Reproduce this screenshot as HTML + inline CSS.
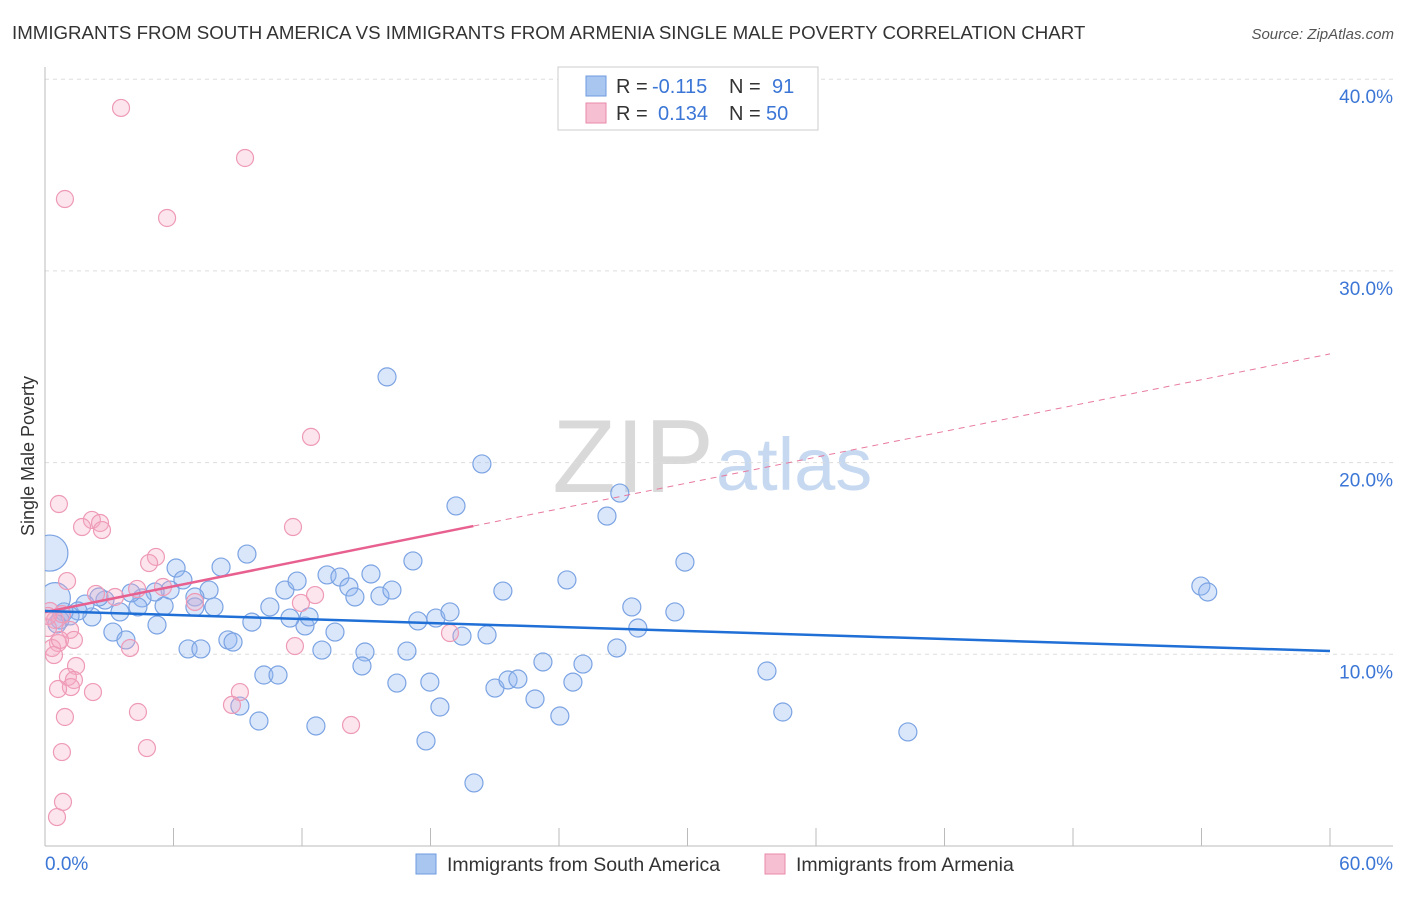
<!DOCTYPE html>
<html><head><meta charset="utf-8"><style>
body{margin:0;background:#fff;font-family:"Liberation Sans",sans-serif;}
svg text{font-family:"Liberation Sans",sans-serif;}
</style></head><body>
<svg width="1406" height="892" xmlns="http://www.w3.org/2000/svg" id="chart">
<defs><clipPath id="plotclip"><rect x="45" y="60" width="1360" height="786"/></clipPath></defs>
<text x="12" y="39" font-size="18.7" fill="#333">IMMIGRANTS FROM SOUTH AMERICA VS IMMIGRANTS FROM ARMENIA SINGLE MALE POVERTY CORRELATION CHART</text>
<text x="1394" y="39" font-size="15" fill="#555" text-anchor="end" font-style="italic">Source: ZipAtlas.com</text>
<text x="714" y="492" font-size="104" fill="#d9d9d9" text-anchor="end" font-family="Liberation Serif">ZIP</text>
<text x="716" y="490" font-size="74" fill="#c6d9f1">atlas</text>
<g id="grid"></g>
<g id="axes"></g>
<g id="marks" clip-path="url(#plotclip)"></g>
<text transform="translate(34,456) rotate(-90)" font-size="18" fill="#333" text-anchor="middle">Single Male Poverty</text>
<text x="45" y="870" font-size="19" fill="#3b76d6">0.0%</text>
<text x="1393" y="870" font-size="19" fill="#3b76d6" text-anchor="end">60.0%</text>
<g>
<rect x="558" y="67" width="260" height="63" fill="#fff" stroke="#ccc"/>
<rect x="586" y="76" width="20" height="20" fill="#a8c6f0" stroke="#6f9be0"/>
<rect x="586" y="103" width="20" height="20" fill="#f7c0d2" stroke="#e98aab"/>
<text x="616" y="93" font-size="20" fill="#333">R =</text>
<text x="652" y="93" font-size="20" fill="#3b76d6">-0.115</text>
<text x="729" y="93" font-size="20" fill="#333">N =</text>
<text x="772" y="93" font-size="20" fill="#3b76d6">91</text>
<text x="616" y="120" font-size="20" fill="#333">R =</text>
<text x="658" y="120" font-size="20" fill="#3b76d6">0.134</text>
<text x="729" y="120" font-size="20" fill="#333">N =</text>
<text x="766" y="120" font-size="20" fill="#3b76d6">50</text>
</g>
<g>
<rect x="416" y="854" width="20" height="20" fill="#a8c6f0" stroke="#6f9be0"/>
<text x="447" y="871" font-size="19.5" fill="#333">Immigrants from South America</text></g>
<g>
<rect x="765" y="854" width="20" height="20" fill="#f7c0d2" stroke="#e98aab"/>
<text x="796" y="871" font-size="19.5" fill="#333">Immigrants from Armenia</text></g>
</svg>
<script>
const yTicks=[10,20,30,40];
const yTickLabels=["10.0%","20.0%","30.0%","40.0%"];
const xTicks=[0,6,12,18,24,30,36,42,48,54,60];
const blueX=[15.97,20.40,19.19,26.84,26.24,29.88,17.18,24.37,21.38,53.97,54.29,27.40,29.41,27.68,26.70,33.71,34.45,40.29,9.43,8.22,6.12,6.44,7.66,7.89,7.00,7.00,5.56,5.84,5.14,4.53,4.34,4.02,3.50,2.80,2.52,2.19,1.87,1.54,1.17,0.89,0.70,0.56,3.17,3.78,5.23,6.68,7.28,8.54,8.78,9.66,10.50,11.20,11.77,12.14,12.33,11.44,13.17,13.77,14.19,14.47,15.22,15.64,16.20,13.54,12.93,14.94,14.80,16.90,17.41,18.25,18.91,19.47,20.64,10.22,10.88,16.43,17.97,18.44,17.79,20.03,21.01,21.62,22.08,22.88,23.25,24.04,24.65,25.12,9.10,9.99,12.65,0.23,0.47];
const blueY=[24.47,19.93,17.74,18.41,17.21,14.81,14.87,13.88,13.30,13.56,13.25,12.47,12.21,11.37,10.33,9.13,6.99,5.95,15.23,14.55,14.50,13.88,13.35,12.47,12.99,12.47,12.52,13.35,13.25,12.94,12.47,13.20,12.21,12.83,12.99,11.95,12.62,12.26,12.00,12.21,11.79,11.58,11.16,10.75,11.53,10.28,10.28,10.75,10.64,11.68,12.47,13.35,13.82,11.48,11.95,11.89,14.14,14.03,13.51,12.99,14.19,13.04,13.35,11.16,10.22,10.12,9.39,10.17,11.74,11.89,12.21,10.95,11.01,8.92,8.92,8.50,8.55,7.25,5.48,3.29,8.24,8.66,8.71,7.67,9.60,6.78,8.55,9.49,7.30,6.52,6.26,15.28,12.94];
const blueSize=[1,1,1,1,1,1,1,1,1,1,1,1,1,1,1,1,1,1,1,1,1,1,1,1,1,1,1,1,1,1,1,1,1,1,1,1,1,1,1,1,1,1,1,1,1,1,1,1,1,1,1,1,1,1,1,1,1,1,1,1,1,1,1,1,1,1,1,1,1,1,1,1,1,1,1,1,1,1,1,1,1,1,1,1,1,1,1,1,1,1,1,2,1.7];
const pinkX=[3.55,9.34,0.93,5.70,12.42,0.65,2.19,1.73,2.57,2.66,11.58,5.18,4.86,1.03,5.51,2.38,3.27,4.30,7.00,11.95,12.61,0.23,0.47,0.79,0.14,1.17,1.35,0.61,0.33,0.42,3.97,11.67,18.91,1.45,1.07,1.35,1.21,0.61,2.24,9.10,8.73,4.34,0.93,14.29,4.76,0.79,0.84,0.56,0.70,0.14];
const pinkY=[38.50,35.89,33.75,32.76,21.34,17.84,17.01,16.64,16.85,16.48,16.64,15.08,14.76,13.82,13.51,13.15,12.99,13.41,12.73,12.68,13.09,12.26,11.79,12.10,11.37,11.27,10.75,10.59,10.33,9.96,10.33,10.43,11.11,9.39,8.82,8.66,8.29,8.19,8.03,8.03,7.36,6.99,6.73,6.31,5.11,4.90,2.30,1.51,10.75,12.00];
const blueTrend=[12.26,10.17];
const pinkTrend=[12.2,25.67];
const pinkSolidEnd=20;

const NS="http://www.w3.org/2000/svg";
const X0=45,X1=1330,Y0=846,YPER=19.17;
function sx(v){return X0+(X1-X0)*v/60;}
function sy(v){return Y0-v*YPER;}
function mk(tag,attrs,parent){const e=document.createElementNS(NS,tag);for(const k in attrs)e.setAttribute(k,attrs[k]);parent.appendChild(e);return e;}
const grid=document.getElementById('grid'),axes=document.getElementById('axes'),marks=document.getElementById('marks');
yTicks.forEach((t,i)=>{
  const l=mk('line',{x1:45,x2:1393,y1:sy(t),y2:sy(t),stroke:'#ddd','stroke-dasharray':'4,4'},grid);
  
  
  const tx=mk('text',{x:1393,y:sy(t)+24,'font-size':19,fill:'#3b76d6','text-anchor':'end'},axes);
  tx.textContent=yTickLabels[i];
  
  
});
const ya=mk('line',{x1:45,x2:45,y1:67,y2:846,stroke:'#bbb'},axes);


const xa=mk('line',{x1:45,x2:1393,y1:846,y2:846,stroke:'#bbb'},axes);


xTicks.forEach(t=>{
  const l=mk('line',{x1:sx(t),x2:sx(t),y1:828,y2:846,stroke:'#bbb'},axes);
  
  
});
blueX.forEach((x,i)=>{
  const c=mk('circle',{cx:sx(x),cy:sy(blueY[i]),r:9*blueSize[i],fill:'rgba(150,185,240,0.35)',stroke:'#7ba3e3','stroke-width':1.2},marks);
  
  
});
pinkX.forEach((x,i)=>{
  const c=mk('circle',{cx:sx(x),cy:sy(pinkY[i]),r:8.5,fill:'rgba(244,170,195,0.3)',stroke:'#ee9ab7','stroke-width':1.2},marks);
  
  
});
function pinkAt(x){return pinkTrend[0]+(pinkTrend[1]-pinkTrend[0])*x/60;}
const pd=mk('line',{x1:sx(pinkSolidEnd),y1:sy(pinkAt(pinkSolidEnd)),x2:sx(60),y2:sy(pinkTrend[1]),stroke:'#e8799f','stroke-width':1,'stroke-dasharray':'6,5'},marks);


const ps=mk('line',{x1:sx(0),y1:sy(pinkTrend[0]),x2:sx(pinkSolidEnd),y2:sy(pinkAt(pinkSolidEnd)),stroke:'#e8608f','stroke-width':2.5},marks);


const bl=mk('line',{x1:sx(0),y1:sy(blueTrend[0]),x2:sx(60),y2:sy(blueTrend[1]),stroke:'#1f6fd6','stroke-width':2.5},marks);


</script>
</body></html>
